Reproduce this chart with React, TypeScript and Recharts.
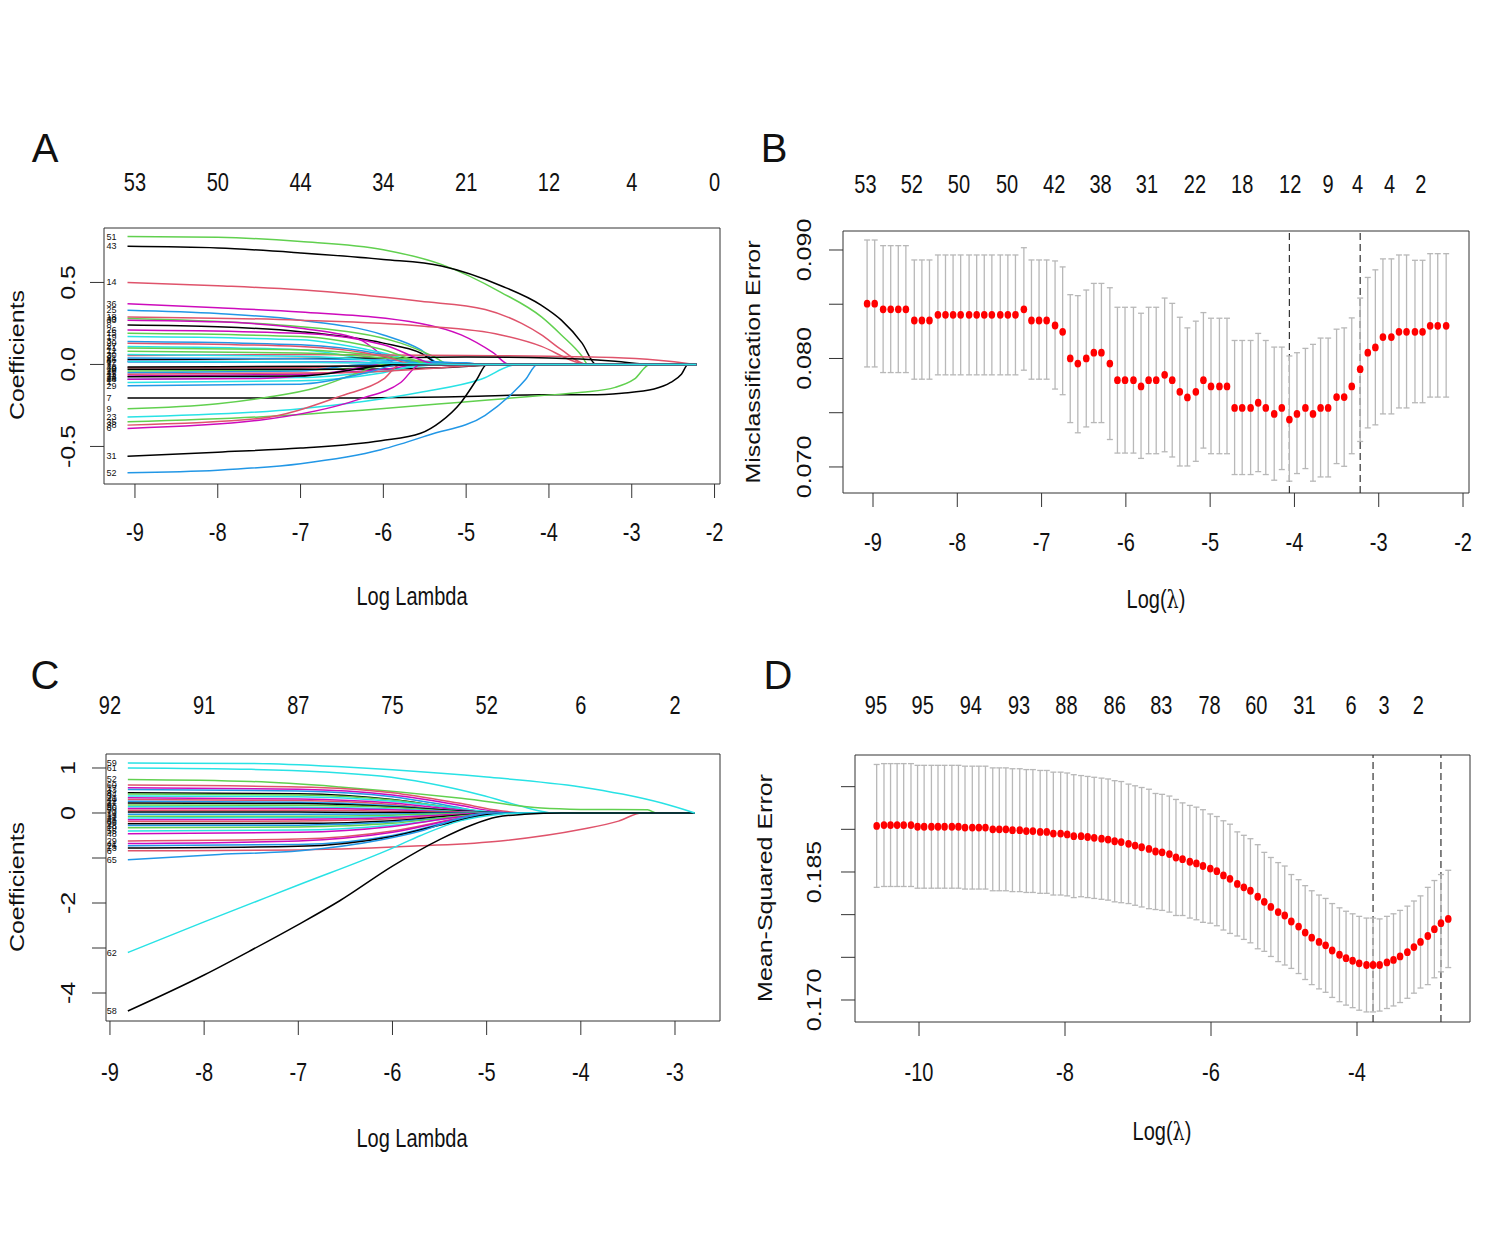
import React from 'react';
import { ComposedChart, Line, Scatter, ErrorBar, XAxis, YAxis, ReferenceLine } from 'recharts';

// R default palette, as used by plot.glmnet (col = 1:6)
const PAL = ['#000000', '#DF536B', '#61D04F', '#2297E6', '#28E2E5', '#CD0BBC'];
const FONT = "'Liberation Sans', Arial, Helvetica, sans-serif";
const INK = '#111111';
const FRAME = '#333333';
const W = 1489;
const H = 1241;

// ---------- A: coefficient paths (log lambda, coefficient) ----------
const ticksA = [-9, -8, -7, -6, -5, -4, -3, -2];
const dfA = ['53', '50', '44', '34', '21', '12', '4', '0'];
const yTicksA = [-0.5, 0, 0.5];
const yLabA = ['-0.5', '0.0', '0.5'];
const namesA = ['51', '43', '14', '36', '25', '18', '8', '40', '33', '19', '3', '27', '2', '46', '12', '21', '5', '30', '39', '16', '47', '10', '22', '44', '1', '28', '7', '9', '35', '23', '38', '6', '31', '52', '41', '11', '17', '48', '20', '29', '15', '26', '13', '4'];
const colA = [2, 0, 1, 5, 3, 1, 0, 2, 5, 4, 3, 4, 1, 0, 2, 3, 5, 4, 1, 2, 3, 0, 5, 4, 4, 5, 0, 2, 2, 4, 1, 5, 0, 3, 2, 1, 3, 0, 1, 3, 2, 5, 0, 4];
const pathsA: number[][][] = [
  [[-9.09, 0.78], [-8.0, 0.775], [-7.0, 0.75], [-6.0, 0.70], [-5.3, 0.61], [-4.58, 0.44], [-4.09, 0.29], [-3.85, 0.18], [-3.6, 0.05], [-3.53, 0], [-2.22, 0]],
  [[-9.09, 0.72], [-8.0, 0.71], [-7.0, 0.68], [-6.0, 0.64], [-5.3, 0.60], [-4.58, 0.48], [-4.09, 0.36], [-3.85, 0.27], [-3.6, 0.13], [-3.43, 0], [-2.22, 0]],
  [[-9.09, 0.50], [-8.0, 0.48], [-7.0, 0.455], [-5.55, 0.385], [-4.77, 0.335], [-4.33, 0.25], [-4.09, 0.18], [-3.85, 0.09], [-3.53, 0], [-2.22, 0]],
  [[-9.09, 0.37], [-8.0, 0.345], [-7.0, 0.32], [-5.55, 0.25], [-5.06, 0.18], [-4.67, 0.07], [-4.48, 0], [-2.22, 0]],
  [[-9.09, 0.33], [-8.0, 0.31], [-7.0, 0.27], [-6.0, 0.18], [-5.55, 0.09], [-5.3, 0], [-2.22, 0]],
  [[-9.09, 0.29], [-7.0, 0.27], [-5.55, 0.235], [-4.58, 0.18], [-4.09, 0.11], [-3.7, 0.02], [-3.55, 0], [-2.22, 0]],
  [[-9.09, 0.24], [-8.0, 0.23], [-7.0, 0.20], [-6.0, 0.13], [-5.55, 0.07], [-5.3, 0], [-2.22, 0]],
  [[-9.09, 0.28], [-7.0, 0.23], [-5.79, 0.13], [-5.4, 0.05], [-5.2, 0], [-2.22, 0]],
  [[-9.09, 0.27], [-8.0, 0.26], [-7.0, 0.22], [-6.28, 0.15], [-5.79, 0], [-2.22, 0]],
  [[-9.09, 0.17], [-7.0, 0.15], [-6.0, 0.07], [-5.4, 0], [-2.22, 0]],
  [[-9.09, 0.14], [-7.0, 0.12], [-6.0, 0.06], [-5.5, 0], [-2.22, 0]],
  [[-9.09, 0.11], [-7.0, 0.09], [-6.3, 0.04], [-5.9, 0], [-2.22, 0]],
  [[-9.09, 0.055], [-7.0, 0.06], [-5.0, 0.055], [-4.0, 0.05], [-3.1, 0.04], [-2.55, 0.02], [-2.23, 0]],
  [[-9.09, 0.03], [-6.0, 0.04], [-5.0, 0.045], [-4.0, 0.04], [-3.2, 0.02], [-2.75, 0], [-2.22, 0]],
  [[-9.09, 0.08], [-7.0, 0.07], [-6.0, 0.04], [-5.3, 0], [-2.22, 0]],
  [[-9.09, 0.04], [-7.0, 0.035], [-5.5, 0.02], [-4.6, 0], [-2.22, 0]],
  [[-9.09, 0.02], [-6.5, 0.015], [-5.5, 0], [-2.22, 0]],
  [[-9.09, 0.06], [-7.0, 0.05], [-6.0, 0.02], [-5.6, 0], [-2.22, 0]],
  [[-9.09, -0.02], [-7.0, -0.02], [-6.0, 0], [-2.22, 0]],
  [[-9.09, -0.04], [-7.0, -0.035], [-6.0, -0.01], [-5.8, 0], [-2.22, 0]],
  [[-9.09, -0.05], [-7.0, -0.04], [-6.2, 0], [-2.22, 0]],
  [[-9.09, -0.03], [-6.5, -0.03], [-5.3, -0.02], [-4.5, 0], [-2.22, 0]],
  [[-9.09, -0.07], [-7.0, -0.06], [-6.0, -0.03], [-5.5, 0], [-2.22, 0]],
  [[-9.09, -0.09], [-7.0, -0.08], [-6.0, -0.04], [-5.3, 0], [-2.22, 0]],
  [[-9.09, -0.11], [-7.0, -0.10], [-6.0, -0.05], [-5.5, 0], [-2.22, 0]],
  [[-9.09, -0.09], [-7.5, -0.085], [-6.5, -0.04], [-6.0, 0], [-2.22, 0]],
  [[-9.09, -0.205], [-7.0, -0.205], [-5.0, -0.195], [-4.09, -0.185], [-3.5, -0.185], [-3.12, -0.175], [-2.73, -0.15], [-2.53, -0.11], [-2.4, -0.06], [-2.32, 0], [-2.22, 0]],
  [[-9.09, -0.27], [-8.0, -0.24], [-7.4, -0.20], [-6.8, -0.14], [-6.3, -0.05], [-6.0, 0], [-2.22, 0]],
  [[-9.09, -0.35], [-7.5, -0.32], [-6.03, -0.27], [-5.06, -0.23], [-4.58, -0.21], [-4.09, -0.19], [-3.6, -0.17], [-3.2, -0.14], [-2.97, -0.09], [-2.78, 0], [-2.22, 0]],
  [[-9.09, -0.32], [-7.0, -0.27], [-5.55, -0.17], [-4.82, -0.09], [-4.38, 0], [-2.22, 0]],
  [[-9.09, -0.37], [-7.5, -0.33], [-6.5, -0.19], [-6.0, -0.09], [-5.79, 0], [-2.22, 0]],
  [[-9.09, -0.39], [-7.5, -0.34], [-6.28, -0.21], [-5.79, -0.11], [-5.55, 0], [-2.22, 0]],
  [[-9.09, -0.56], [-8.0, -0.535], [-7.0, -0.51], [-6.03, -0.465], [-5.55, -0.42], [-5.31, -0.35], [-5.06, -0.23], [-4.87, -0.09], [-4.75, 0], [-2.22, 0]],
  [[-9.09, -0.66], [-8.0, -0.645], [-7.0, -0.605], [-6.03, -0.52], [-5.45, -0.43], [-4.77, -0.31], [-4.43, -0.17], [-4.28, -0.09], [-4.14, 0], [-2.22, 0]],
  [[-9.09, 0.10], [-7.0, 0.09], [-5.8, 0.04], [-5.2, 0], [-2.22, 0]],
  [[-9.09, -0.06], [-6.5, -0.05], [-5.0, -0.01], [-4.7, 0], [-2.22, 0]],
  [[-9.09, 0.015], [-5.0, 0.01], [-4.8, 0], [-2.22, 0]],
  [[-9.09, -0.015], [-6.0, -0.01], [-5.6, 0], [-2.22, 0]],
  [[-9.09, 0.13], [-7.0, 0.11], [-6.0, 0.05], [-5.6, 0], [-2.22, 0]],
  [[-9.09, -0.13], [-7.0, -0.12], [-6.2, -0.05], [-5.8, 0], [-2.22, 0]],
  [[-9.09, 0.19], [-7.0, 0.17], [-6.0, 0.09], [-5.4, 0], [-2.22, 0]],
  [[-9.09, 0.21], [-7.0, 0.19], [-6.0, 0.12], [-5.3, 0], [-2.22, 0]],
  [[-9.09, -0.075], [-7.0, -0.07], [-5.8, 0], [-2.22, 0]],
  [[-9.09, 0.02], [-7.0, 0.015], [-5.5, 0.005], [-5.0, 0], [-2.22, 0]],
];

// ---------- B: CV misclassification error ----------
const ticksB = [-9, -8, -7, -6, -5, -4, -3, -2];
const topPosB = [-9.09, -8.54, -7.98, -7.41, -6.85, -6.30, -5.75, -5.18, -4.62, -4.05, -3.60, -3.25, -2.87, -2.50];
const dfB = ['53', '52', '50', '50', '42', '38', '31', '22', '18', '12', '9', '4', '4', '2'];
const yTicksB = [0.07, 0.075, 0.08, 0.085, 0.09];
const yLabB = ['0.070', '', '0.080', '', '0.090'];
const lamB = [
  -9.07, -8.98, -8.88, -8.79, -8.70, -8.61, -8.51, -8.42, -8.33, -8.23,
  -8.14, -8.05, -7.96, -7.86, -7.77, -7.68, -7.59, -7.49, -7.40, -7.31,
  -7.21, -7.12, -7.03, -6.94, -6.84, -6.75, -6.66, -6.57, -6.47, -6.38,
  -6.29, -6.19, -6.10, -6.01, -5.91, -5.82, -5.73, -5.64, -5.54, -5.45,
  -5.36, -5.27, -5.17, -5.08, -4.99, -4.89, -4.80, -4.71, -4.62, -4.52,
  -4.43, -4.34, -4.24, -4.15, -4.06, -3.97, -3.87, -3.78, -3.69, -3.60,
  -3.50, -3.41, -3.32, -3.22, -3.13, -3.04, -2.95, -2.85, -2.76, -2.67,
  -2.57, -2.48, -2.39, -2.30, -2.20,
];
const meanB = [
  0.08505, 0.08505, 0.08453, 0.08453, 0.08453, 0.08453, 0.08350, 0.08350, 0.08350, 0.08402,
  0.08402, 0.08402, 0.08402, 0.08402, 0.08402, 0.08402, 0.08402, 0.08402, 0.08402, 0.08402,
  0.08453, 0.08350, 0.08350, 0.08350, 0.08304, 0.08246, 0.08000, 0.07953, 0.08000, 0.08053,
  0.08053, 0.07953, 0.07800, 0.07800, 0.07800, 0.07742, 0.07800, 0.07800, 0.07849, 0.07800,
  0.07693, 0.07641, 0.07693, 0.07800, 0.07742, 0.07742, 0.07742, 0.07544, 0.07544, 0.07544,
  0.07592, 0.07544, 0.07489, 0.07544, 0.07437, 0.07489, 0.07544, 0.07489, 0.07544, 0.07544,
  0.07644, 0.07644, 0.07742, 0.07901, 0.08053, 0.08102, 0.08197, 0.08197, 0.08246, 0.08246,
  0.08246, 0.08246, 0.08301, 0.08301, 0.08301,
];
const upB = [
  0.09092, 0.09092, 0.09040, 0.09040, 0.09040, 0.09040, 0.08908, 0.08908, 0.08908, 0.08954,
  0.08954, 0.08954, 0.08954, 0.08954, 0.08954, 0.08954, 0.08954, 0.08954, 0.08954, 0.08954,
  0.09021, 0.08908, 0.08908, 0.08908, 0.08899, 0.08844, 0.08588, 0.08579, 0.08631, 0.08692,
  0.08692, 0.08652, 0.08472, 0.08472, 0.08472, 0.08417, 0.08472, 0.08472, 0.08557, 0.08508,
  0.08380, 0.08282, 0.08344, 0.08423, 0.08371, 0.08371, 0.08371, 0.08166, 0.08166, 0.08166,
  0.08231, 0.08166, 0.08105, 0.08105, 0.08023, 0.08053, 0.08093, 0.08130, 0.08188, 0.08188,
  0.08270, 0.08282, 0.08374, 0.08557, 0.08747, 0.08817, 0.08918, 0.08918, 0.08954, 0.08954,
  0.08905, 0.08905, 0.08966, 0.08966, 0.08966,
];
const loB = [
  0.07922, 0.07922, 0.07870, 0.07870, 0.07870, 0.07870, 0.07809, 0.07809, 0.07809, 0.07849,
  0.07849, 0.07849, 0.07849, 0.07849, 0.07849, 0.07849, 0.07849, 0.07849, 0.07849, 0.07849,
  0.07892, 0.07809, 0.07809, 0.07809, 0.07718, 0.07666, 0.07409, 0.07315, 0.07369, 0.07409,
  0.07409, 0.07253, 0.07128, 0.07128, 0.07128, 0.07079, 0.07122, 0.07122, 0.07140, 0.07092,
  0.07009, 0.07009, 0.07052, 0.07174, 0.07122, 0.07122, 0.07122, 0.06930, 0.06930, 0.06930,
  0.06957, 0.06930, 0.06878, 0.06976, 0.06869, 0.06939, 0.06985, 0.06869, 0.06908, 0.06908,
  0.07031, 0.07006, 0.07122, 0.07235, 0.07360, 0.07388, 0.07489, 0.07489, 0.07544, 0.07544,
  0.07592, 0.07592, 0.07644, 0.07644, 0.07644,
];
const minIdxB = 54;
const seIdxB = 63;

// ---------- C: coefficient paths (second model) ----------
const ticksC = [-9, -8, -7, -6, -5, -4, -3];
const dfC = ['92', '91', '87', '75', '52', '6', '2'];
const yTicksC = [-4, -3, -2, -1, 0, 1];
const yLabC = ['-4', '', '-2', '', '0', '1'];
const namesC = ['61', '52', '60', '17', '33', '8', '44', '3', '21', '40', '12', '27', '9', '50', '36', '5', '70', '14', '23', '31', '45', '66', '2', '38', '19', '55', '48', '29', '41', '26', '13', '6', '65', '62', '58', '59'];
const colC = [4, 2, 1, 5, 3, 0, 2, 4, 5, 1, 3, 0, 2, 4, 5, 1, 0, 3, 2, 4, 5, 1, 0, 3, 2, 4, 5, 1, 5, 3, 0, 1, 3, 4, 0, 4];
const pathsC: number[][][] = [
  [[-8.81, 1.0], [-7.5, 0.97], [-6.13, 0.82], [-5.06, 0.40], [-4.63, 0.15], [-4.42, 0.04], [-4.3, 0], [-2.79, 0]],
  [[-8.81, 0.745], [-7.5, 0.70], [-6.56, 0.58], [-5.27, 0.33], [-4.42, 0.11], [-4.0, 0.08], [-3.29, 0.07], [-3.2, 0], [-2.79, 0]],
  [[-8.81, 0.62], [-7.0, 0.58], [-6.0, 0.45], [-5.3, 0.22], [-4.85, 0.05], [-4.6, 0], [-2.79, 0]],
  [[-8.81, 0.56], [-7.0, 0.53], [-6.0, 0.40], [-5.3, 0.18], [-4.9, 0.03], [-4.7, 0], [-2.79, 0]],
  [[-8.81, 0.52], [-7.0, 0.49], [-6.0, 0.36], [-5.4, 0.16], [-5.0, 0.02], [-4.8, 0], [-2.79, 0]],
  [[-8.81, 0.45], [-7.0, 0.43], [-6.0, 0.30], [-5.4, 0.12], [-4.95, 0], [-2.79, 0]],
  [[-8.81, 0.42], [-7.0, 0.40], [-6.0, 0.29], [-5.3, 0.10], [-4.9, 0], [-2.79, 0]],
  [[-8.81, 0.38], [-7.0, 0.36], [-6.0, 0.26], [-5.2, 0.08], [-4.8, 0], [-2.79, 0]],
  [[-8.81, 0.34], [-7.0, 0.31], [-6.0, 0.22], [-5.3, 0.07], [-4.9, 0], [-2.79, 0]],
  [[-8.81, 0.30], [-7.0, 0.28], [-6.0, 0.19], [-5.4, 0.06], [-5.0, 0], [-2.79, 0]],
  [[-8.81, 0.26], [-7.0, 0.24], [-6.0, 0.16], [-5.3, 0.05], [-4.9, 0], [-2.79, 0]],
  [[-8.81, 0.22], [-7.0, 0.21], [-6.0, 0.14], [-5.2, 0.04], [-4.7, 0], [-2.79, 0]],
  [[-8.81, 0.18], [-7.0, 0.17], [-6.0, 0.12], [-5.3, 0.03], [-4.9, 0], [-2.79, 0]],
  [[-8.81, 0.14], [-7.0, 0.13], [-6.0, 0.09], [-5.2, 0.02], [-4.8, 0], [-2.79, 0]],
  [[-8.81, 0.10], [-7.0, 0.10], [-6.0, 0.07], [-5.3, 0.02], [-4.9, 0], [-2.79, 0]],
  [[-8.81, 0.06], [-7.0, 0.06], [-6.0, 0.04], [-5.2, 0.01], [-4.8, 0], [-2.79, 0]],
  [[-8.81, 0.02], [-7.0, 0.02], [-6.0, 0.01], [-4.0, 0.005], [-3.35, 0], [-2.79, 0]],
  [[-8.81, -0.03], [-7.0, -0.03], [-6.0, -0.02], [-5.2, 0], [-2.79, 0]],
  [[-8.81, -0.07], [-7.0, -0.07], [-6.0, -0.05], [-5.3, -0.01], [-4.9, 0], [-2.79, 0]],
  [[-8.81, -0.11], [-7.0, -0.10], [-6.0, -0.08], [-5.2, -0.02], [-4.8, 0], [-2.79, 0]],
  [[-8.81, -0.15], [-7.0, -0.14], [-6.0, -0.10], [-5.3, -0.03], [-4.9, 0], [-2.79, 0]],
  [[-8.81, -0.19], [-7.0, -0.18], [-6.0, -0.13], [-5.2, -0.04], [-4.7, 0], [-2.79, 0]],
  [[-8.81, -0.24], [-7.0, -0.23], [-6.0, -0.17], [-5.3, -0.05], [-4.8, 0], [-2.79, 0]],
  [[-8.81, -0.28], [-7.0, -0.27], [-6.0, -0.20], [-5.2, -0.06], [-4.75, 0], [-2.79, 0]],
  [[-8.81, -0.33], [-7.0, -0.31], [-6.0, -0.23], [-5.3, -0.07], [-4.8, 0], [-2.79, 0]],
  [[-8.81, -0.40], [-7.0, -0.38], [-6.0, -0.27], [-5.2, -0.08], [-4.7, 0], [-2.79, 0]],
  [[-8.81, -0.46], [-7.0, -0.43], [-6.0, -0.30], [-5.3, -0.09], [-4.8, 0], [-2.79, 0]],
  [[-8.81, -0.62], [-7.0, -0.58], [-6.0, -0.40], [-5.3, -0.12], [-4.9, 0], [-2.79, 0]],
  [[-8.81, -0.68], [-7.0, -0.62], [-6.0, -0.43], [-5.3, -0.13], [-4.85, 0], [-2.79, 0]],
  [[-8.81, -0.73], [-7.0, -0.70], [-6.0, -0.50], [-5.4, -0.20], [-5.0, -0.03], [-4.8, 0], [-2.79, 0]],
  [[-8.81, -0.78], [-7.0, -0.74], [-6.0, -0.52], [-5.4, -0.22], [-5.0, -0.04], [-4.8, 0], [-2.79, 0]],
  [[-8.81, -0.84], [-6.98, -0.82], [-5.70, -0.73], [-4.85, -0.62], [-3.99, -0.36], [-3.6, -0.18], [-3.35, 0], [-2.79, 0]],
  [[-8.81, -1.04], [-7.84, -0.92], [-6.98, -0.84], [-6.13, -0.60], [-5.7, -0.40], [-5.27, -0.11], [-5.0, 0], [-2.79, 0]],
  [[-8.81, -3.1], [-8.0, -2.42], [-7.0, -1.6], [-6.0, -0.78], [-5.7, -0.5], [-5.27, -0.17], [-4.85, -0.03], [-4.6, 0], [-2.79, 0]],
  [[-8.81, -4.4], [-8.0, -3.6], [-7.5, -3.05], [-7.0, -2.48], [-6.56, -1.95], [-6.0, -1.18], [-5.49, -0.58], [-5.15, -0.26], [-4.89, -0.09], [-4.6, -0.03], [-4.2, 0], [-2.79, 0]],
  [[-8.81, 1.11], [-7.5, 1.10], [-6.5, 1.02], [-6.0, 0.96], [-5.0, 0.80], [-4.0, 0.58], [-3.56, 0.42], [-3.14, 0.22], [-2.79, 0]],
];

// ---------- D: CV mean-squared error ----------
const ticksD = [-10, -8, -6, -4];
const topPosD = [-10.59, -9.95, -9.29, -8.63, -7.98, -7.32, -6.68, -6.02, -5.38, -4.72, -4.08, -3.63, -3.16];
const dfD = ['95', '95', '94', '93', '88', '86', '83', '78', '60', '31', '6', '3', '2'];
const yTicksD = [0.17, 0.175, 0.18, 0.185, 0.19, 0.195];
const yLabD = ['0.170', '', '', '0.185', '', ''];
const lamD = [
  -10.58, -10.48, -10.39, -10.30, -10.21, -10.11, -10.02, -9.93, -9.83, -9.74,
  -9.65, -9.55, -9.46, -9.37, -9.27, -9.18, -9.09, -8.99, -8.90, -8.81,
  -8.72, -8.62, -8.53, -8.44, -8.34, -8.25, -8.16, -8.06, -7.97, -7.88,
  -7.78, -7.69, -7.60, -7.50, -7.41, -7.32, -7.23, -7.13, -7.04, -6.95,
  -6.85, -6.76, -6.67, -6.57, -6.48, -6.39, -6.29, -6.20, -6.11, -6.01,
  -5.92, -5.83, -5.74, -5.64, -5.55, -5.46, -5.36, -5.27, -5.18, -5.08,
  -4.99, -4.90, -4.80, -4.71, -4.62, -4.52, -4.43, -4.34, -4.24, -4.15,
  -4.06, -3.97, -3.87, -3.78, -3.69, -3.59, -3.50, -3.41, -3.31, -3.22,
  -3.13, -3.03, -2.94, -2.85, -2.75,
];
const meanD = [
  0.1904, 0.1905, 0.1905, 0.1905, 0.1905, 0.1905, 0.1903, 0.1903, 0.1903, 0.1903,
  0.1903, 0.1903, 0.1903, 0.1902, 0.1902, 0.1902, 0.1902, 0.1900, 0.1900, 0.1900,
  0.1899, 0.1899, 0.1898, 0.1898, 0.1897, 0.1897, 0.1895, 0.1895, 0.1894, 0.1892,
  0.1892, 0.1891, 0.1890, 0.1889, 0.1888, 0.1886, 0.1885, 0.1883, 0.1881, 0.1879,
  0.1877, 0.1874, 0.1873, 0.1871, 0.1867, 0.1865, 0.1862, 0.1860, 0.1857, 0.1854,
  0.1851, 0.1846, 0.1842, 0.1836, 0.1832, 0.1828, 0.1821, 0.1815, 0.1809, 0.1803,
  0.1799, 0.1792, 0.1786, 0.1779, 0.1773, 0.1768, 0.1764, 0.1758, 0.1753, 0.1749,
  0.1746, 0.1743, 0.1741, 0.1741, 0.1741, 0.1744, 0.1747, 0.1751, 0.1756, 0.1762,
  0.1768, 0.1775, 0.1783, 0.1790, 0.1795,
];
const sdD = [
  0.0072, 0.0072, 0.0072, 0.0072, 0.0072, 0.0072, 0.0072, 0.0072, 0.0072, 0.0072,
  0.0072, 0.0072, 0.0072, 0.0072, 0.0072, 0.0072, 0.0072, 0.0072, 0.0072, 0.0072,
  0.0072, 0.0072, 0.0072, 0.0072, 0.0072, 0.0072, 0.0072, 0.0072, 0.0072, 0.0072,
  0.0071, 0.0071, 0.0071, 0.0071, 0.0071, 0.0071, 0.0071, 0.0070, 0.0070, 0.0070,
  0.0070, 0.0068, 0.0068, 0.0068, 0.0068, 0.0066, 0.0066, 0.0066, 0.0066, 0.0064,
  0.0064, 0.0064, 0.0064, 0.0061, 0.0061, 0.0061, 0.0061, 0.0058, 0.0058, 0.0058,
  0.0058, 0.0055, 0.0055, 0.0055, 0.0055, 0.0055, 0.0055, 0.0055, 0.0055, 0.0055,
  0.0055, 0.0055, 0.0055, 0.0055, 0.0054, 0.0054, 0.0054, 0.0054, 0.0054, 0.0054,
  0.0054, 0.0057, 0.0057, 0.0057, 0.0057,
];
const minIdxD = 73;
const seIdxD = 83;

// ---------- tables ----------
const rowsB = lamB.map((x, i) => ({ x, y: meanB[i], err: [meanB[i] - loB[i], upB[i] - meanB[i]] }));
const rowsD = lamD.map((x, i) => ({ x, y: meanD[i], err: [sdD[i], sdD[i]] }));
const toPts = (p: number[][]) => p.map(([x, y]) => ({ x, y }));
const starts = (paths: number[][][], names: string[]) =>
  paths.map((p, i) => ({ x: p[0][0], y: p[0][1], name: names[i] }));

// ---------- ticks ----------
type TP = { x: number; y: number; payload: { value: number } };

const bottomTick = (dy: number) => (p: TP) => (
  <text transform={`translate(${p.x},${p.y + dy}) scale(0.8,1)`} textAnchor="middle" fontSize={25} fontFamily={FONT} fill={INK}>
    {String(p.payload.value)}
  </text>
);

const topTick = (dy: number, pos: number[], labels: string[]) => (p: TP) => (
  <text transform={`translate(${p.x},${p.y + dy}) scale(0.8,1)`} textAnchor="middle" fontSize={25} fontFamily={FONT} fill={INK}>
    {labels[pos.indexOf(p.payload.value)] ?? ''}
  </text>
);

const leftTick = (dx: number, vals: number[], labels: string[]) => (p: TP) => (
  <text transform={`translate(${p.x - dx},${p.y}) rotate(-90) scale(1,0.8)`} textAnchor="middle" dominantBaseline="central" fontSize={25} fontFamily={FONT} fill={INK}>
    {labels[vals.indexOf(p.payload.value)] ?? ''}
  </text>
);

type Frame = {
  xDom: [number, number];
  yDom: [number, number];
  xTicks: number[];
  topPos: number[];
  topLab: string[];
  yTicks: number[];
  yLab: string[];
  dyB: number;
  dyT: number;
  dxL: number;
};

// axes are 1px thick so that Recharts still draws them; margins are reduced by 1 to compensate
function frameAxes(f: Frame) {
  return [
    <XAxis key="xb" xAxisId="b" type="number" dataKey="x" domain={f.xDom} allowDataOverflow ticks={f.xTicks} interval={0}
      height={1} tickSize={14} tickMargin={0} stroke={FRAME} tick={bottomTick(f.dyB)} />,
    <XAxis key="xt" xAxisId="t" orientation="top" type="number" dataKey="x" domain={f.xDom} allowDataOverflow ticks={f.topPos}
      interval={0} height={1} tickSize={0} tickMargin={0} tickLine={false} stroke={FRAME} tick={topTick(f.dyT, f.topPos, f.topLab)} />,
    <YAxis key="yl" yAxisId="l" type="number" domain={f.yDom} allowDataOverflow ticks={f.yTicks} interval={0}
      width={1} tickSize={14} tickMargin={0} stroke={FRAME} tick={leftTick(f.dxL, f.yTicks, f.yLab)} />,
    <YAxis key="yr" yAxisId="r" orientation="right" type="number" domain={f.yDom} allowDataOverflow width={1}
      tick={false} tickLine={false} stroke={FRAME} />,
  ];
}

const box = (l: number, t: number, r: number, b: number) => ({ left: l - 1, top: t - 1, right: W - r - 1, bottom: H - b - 1 });

const nameShape = (p: any) => (
  <text x={p.cx - 21} y={p.cy + 3} fontSize={9} fontFamily={FONT} fill={INK}>{p.payload.name}</text>
);
const dotShape = (p: any) => <ellipse cx={p.cx} cy={p.cy} rx={3.3} ry={3.9} fill="#FF0000" />;

function Txt({ x, y, size = 25, rot = false, sx = 0.8, children }: any) {
  const tf = rot ? `translate(-50%,-50%) rotate(-90deg) scale(1,${sx})` : `translate(-50%,-50%) scale(${sx},1)`;
  return (
    <div style={{ position: 'absolute', left: x, top: y, transform: tf, fontSize: size, lineHeight: 1, whiteSpace: 'nowrap', fontFamily: FONT, color: INK }}>
      {children}
    </div>
  );
}

const layer: React.CSSProperties = { position: 'absolute', left: 0, top: 0 };
const lam = <span style={{ fontFamily: "'DejaVu Serif', serif", fontSize: 24 }}>λ</span>;

export default function App() {
  return (
    <div style={{ position: 'absolute', left: 0, top: 0, width: W, height: H, background: '#ffffff', overflow: 'hidden' }}>
      {/* A */}
      <div style={layer}>
        <ComposedChart width={W} height={H} margin={box(104, 228, 720, 484)}>
          {frameAxes({ xDom: [-9.374, -1.934], yDom: [-0.729, 0.832], xTicks: ticksA, topPos: ticksA, topLab: dfA, yTicks: yTicksA, yLab: yLabA, dyB: 43, dyT: -37, dxL: 22 })}
          {pathsA.map((p, i) => (
            <Line key={i} xAxisId="b" yAxisId="l" data={toPts(p)} dataKey="y" type="monotone" stroke={PAL[colA[i]]}
              strokeWidth={1.5} dot={false} activeDot={false} isAnimationActive={false} />
          ))}
          <Scatter xAxisId="b" yAxisId="l" data={starts(pathsA, namesA)} dataKey="y" shape={nameShape} isAnimationActive={false} />
        </ComposedChart>
      </div>

      {/* B */}
      <div style={layer}>
        <ComposedChart width={W} height={H} margin={box(843, 231, 1469, 493)}>
          {frameAxes({ xDom: [-9.356, -1.929], yDom: [0.0676, 0.09175], xTicks: ticksB, topPos: topPosB, topLab: dfB, yTicks: yTicksB, yLab: yLabB, dyB: 44, dyT: -38, dxL: 25 })}
          <ReferenceLine xAxisId="b" yAxisId="l" x={lamB[minIdxB]} stroke="#333" strokeDasharray="7 4" strokeWidth={1.2} />
          <ReferenceLine xAxisId="b" yAxisId="l" x={lamB[seIdxB]} stroke="#333" strokeDasharray="7 4" strokeWidth={1.2} />
          <Scatter xAxisId="b" yAxisId="l" data={rowsB} dataKey="y" shape={dotShape} isAnimationActive={false}>
            <ErrorBar dataKey="err" direction="y" width={3} stroke="#b8b8b8" strokeWidth={1.3} />
          </Scatter>
        </ComposedChart>
      </div>

      {/* C */}
      <div style={layer}>
        <ComposedChart width={W} height={H} margin={box(106, 754, 720, 1021)}>
          {frameAxes({ xDom: [-9.042, -2.522], yDom: [-4.622, 1.311], xTicks: ticksC, topPos: ticksC, topLab: dfC, yTicks: yTicksC, yLab: yLabC, dyB: 46, dyT: -40, dxL: 24 })}
          {pathsC.map((p, i) => (
            <Line key={i} xAxisId="b" yAxisId="l" data={toPts(p)} dataKey="y" type="monotone" stroke={PAL[colC[i]]}
              strokeWidth={1.5} dot={false} activeDot={false} isAnimationActive={false} />
          ))}
          <Scatter xAxisId="b" yAxisId="l" data={starts(pathsC, namesC)} dataKey="y" shape={nameShape} isAnimationActive={false} />
        </ComposedChart>
      </div>

      {/* D */}
      <div style={layer}>
        <ComposedChart width={W} height={H} margin={box(855, 755, 1470, 1022)}>
          {frameAxes({ xDom: [-10.877, -2.452], yDom: [0.16742, 0.19871], xTicks: ticksD, topPos: topPosD, topLab: dfD, yTicks: yTicksD, yLab: yLabD, dyB: 45, dyT: -41, dxL: 27 })}
          <ReferenceLine xAxisId="b" yAxisId="l" x={lamD[minIdxD]} stroke="#333" strokeDasharray="7 4" strokeWidth={1.2} />
          <ReferenceLine xAxisId="b" yAxisId="l" x={lamD[seIdxD]} stroke="#333" strokeDasharray="7 4" strokeWidth={1.2} />
          <Scatter xAxisId="b" yAxisId="l" data={rowsD} dataKey="y" shape={dotShape} isAnimationActive={false}>
            <ErrorBar dataKey="err" direction="y" width={3} stroke="#b8b8b8" strokeWidth={1.3} />
          </Scatter>
        </ComposedChart>
      </div>

      {/* panel letters */}
      <Txt x={45} y={148} size={40} sx={1}>A</Txt>
      <Txt x={774} y={148} size={40} sx={1}>B</Txt>
      <Txt x={45} y={675} size={40} sx={1}>C</Txt>
      <Txt x={778} y={675} size={40} sx={1}>D</Txt>

      {/* axis titles */}
      <Txt x={412} y={596}>Log Lambda</Txt>
      <Txt x={1156} y={599}>Log({lam})</Txt>
      <Txt x={412} y={1138}>Log Lambda</Txt>
      <Txt x={1162} y={1131}>Log({lam})</Txt>
      <Txt x={17} y={355} rot>Coefficients</Txt>
      <Txt x={753} y={362} rot>Misclassification Error</Txt>
      <Txt x={17} y={887} rot>Coefficients</Txt>
      <Txt x={765} y={888} rot>Mean-Squared Error</Txt>
    </div>
  );
}
